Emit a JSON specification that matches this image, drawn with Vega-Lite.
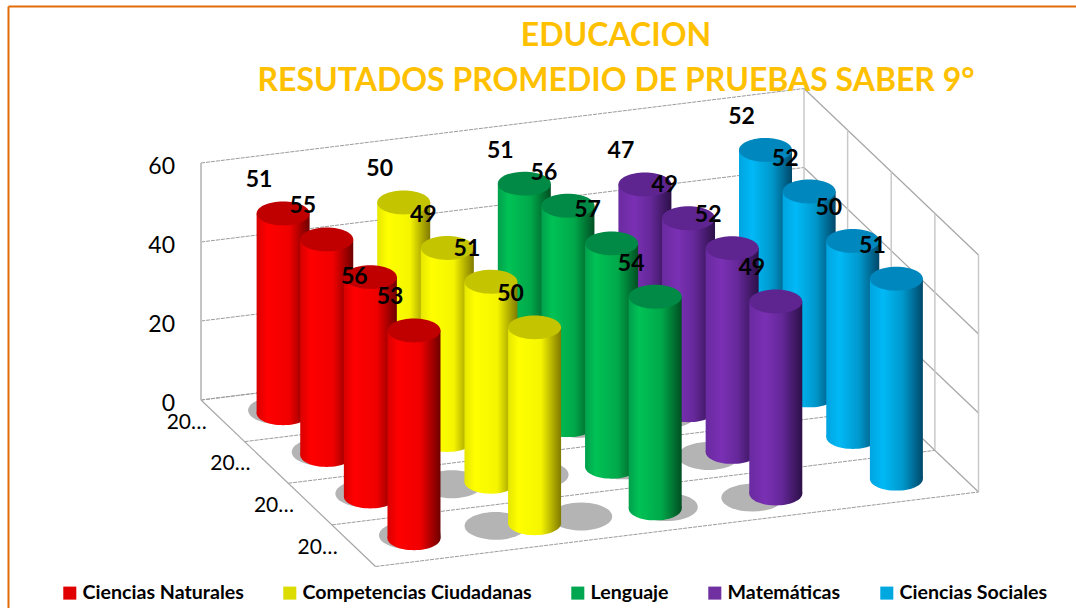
{
"$schema":"https://vega.github.io/schema/vega-lite/v6.json",
"width":1068,"height":602,"autosize":"none","padding":{"left":8,"top":6,"right":0,"bottom":0},
"background":"white",
"config":{"view":{"stroke":null},"text":{"font":"Lato"},"axis":{"domainColor":"#E36C0A","domainWidth":2,"ticks":false,"labels":false,"grid":false}},
"title":{"text":["EDUCACION","RESUTADOS PROMEDIO DE PRUEBAS SABER 9°"],"font":"Lato","fontSize":32,"fontWeight":"bold","color":"#FFC000","anchor":"middle","dx":74,"dy":92,"lineHeight":45,"offset":0},
"datasets":{
"niveles":[{"nivel":0},{"nivel":20},{"nivel":40},{"nivel":60}],
"bordes":[{"a":0},{"a":1},{"a":2},{"a":3},{"a":4}],
"anios":[{"anio":1,"etiqueta":"20…"},{"anio":2,"etiqueta":"20…"},{"anio":3,"etiqueta":"20…"},{"anio":4,"etiqueta":"20…"}],
"notas":[
{"materia":"Ciencias Sociales","anio":1,"valor":52},{"materia":"Ciencias Sociales","anio":2,"valor":52},{"materia":"Ciencias Sociales","anio":3,"valor":50},{"materia":"Ciencias Sociales","anio":4,"valor":51},
{"materia":"Matemáticas","anio":1,"valor":47},{"materia":"Matemáticas","anio":2,"valor":49},{"materia":"Matemáticas","anio":3,"valor":52},{"materia":"Matemáticas","anio":4,"valor":49},
{"materia":"Lenguaje","anio":1,"valor":51},{"materia":"Lenguaje","anio":2,"valor":56},{"materia":"Lenguaje","anio":3,"valor":57},{"materia":"Lenguaje","anio":4,"valor":54},
{"materia":"Competencias Ciudadanas","anio":1,"valor":50},{"materia":"Competencias Ciudadanas","anio":2,"valor":49},{"materia":"Competencias Ciudadanas","anio":3,"valor":51},{"materia":"Competencias Ciudadanas","anio":4,"valor":50},
{"materia":"Ciencias Naturales","anio":1,"valor":51},{"materia":"Ciencias Naturales","anio":2,"valor":55},{"materia":"Ciencias Naturales","anio":3,"valor":56},{"materia":"Ciencias Naturales","anio":4,"valor":53}
]},
"layer":[
{"data":{"name":"niveles"},
 "transform":[{"calculate":"201","as":"x1"},{"calculate":"804","as":"x2"},{"calculate":"400-3.95*datum.nivel","as":"y1"},{"calculate":"325.5-3.95*datum.nivel","as":"y2"}],
 "mark":{"type":"rule","color":"#9c9c9c","strokeWidth":1,"strokeDash":[4,1]},
 "encoding":{
  "x":{"field":"x1","type":"quantitative","title":null,"axis":{"orient":"top"},"scale":{"domain":[8,1076],"nice":false,"zero":false}},"x2":{"field":"x2"},
  "y":{"field":"y1","type":"quantitative","title":null,"scale":{"domain":[608,6],"nice":false,"zero":false}},"y2":{"field":"y2"}}},
{"data":{"name":"niveles"},
 "transform":[{"calculate":"804","as":"x1"},{"calculate":"978.5","as":"x2"},{"calculate":"325.5-3.95*datum.nivel","as":"y1"},{"calculate":"492-3.95*datum.nivel","as":"y2"}],
 "mark":{"type":"rule","color":"#a6a6a6","strokeWidth":1.2},
 "encoding":{
  "x":{"field":"x1","type":"quantitative","title":null,"axis":{"orient":"top"},"scale":{"domain":[8,1076],"nice":false,"zero":false}},"x2":{"field":"x2"},
  "y":{"field":"y1","type":"quantitative","title":null,"scale":{"domain":[608,6],"nice":false,"zero":false}},"y2":{"field":"y2"}}},
{"data":{"name":"bordes"},
 "transform":[{"calculate":"804+174.5*datum.a/4","as":"x1"},{"calculate":"325.5+166.5*datum.a/4","as":"y1"},{"calculate":"datum.y1-237","as":"y2"}],
 "mark":{"type":"rule","color":"#c9c9c9","strokeWidth":1.5},
 "encoding":{
  "x":{"field":"x1","type":"quantitative","title":null,"axis":{"orient":"top"},"scale":{"domain":[8,1076],"nice":false,"zero":false}},
  "y":{"field":"y1","type":"quantitative","title":null,"scale":{"domain":[608,6],"nice":false,"zero":false}},"y2":{"field":"y2"}}},
{"data":{"name":"bordes"},
 "transform":[{"calculate":"201+174.5*datum.a/4","as":"x1"},{"calculate":"datum.x1+603","as":"x2"},{"calculate":"400+166.5*datum.a/4","as":"y1"},{"calculate":"datum.y1-74.5","as":"y2"}],
 "mark":{"type":"rule","color":"#9c9c9c","strokeWidth":1,"strokeDash":[4,1]},
 "encoding":{
  "x":{"field":"x1","type":"quantitative","title":null,"axis":{"orient":"top"},"scale":{"domain":[8,1076],"nice":false,"zero":false}},"x2":{"field":"x2"},
  "y":{"field":"y1","type":"quantitative","title":null,"scale":{"domain":[608,6],"nice":false,"zero":false}},"y2":{"field":"y2"}}},
{"data":{"name":"niveles"},
 "transform":[{"filter":"datum.nivel==0"},{"calculate":"201","as":"x1"},{"calculate":"400","as":"y1"},{"calculate":"163","as":"y2"}],
 "mark":{"type":"rule","color":"#c4c4c4","strokeWidth":2},
 "encoding":{
  "x":{"field":"x1","type":"quantitative","title":null,"axis":{"orient":"top"},"scale":{"domain":[8,1076],"nice":false,"zero":false}},
  "y":{"field":"y1","type":"quantitative","title":null,"scale":{"domain":[608,6],"nice":false,"zero":false}},"y2":{"field":"y2"}}},
{"data":{"name":"niveles"},
 "transform":[{"filter":"datum.nivel==0"},{"calculate":"201","as":"x1"},{"calculate":"375.5","as":"x2"},{"calculate":"400","as":"y1"},{"calculate":"566.5","as":"y2"}],
 "mark":{"type":"rule","color":"#a6a6a6","strokeWidth":1.2},
 "encoding":{
  "x":{"field":"x1","type":"quantitative","title":null,"axis":{"orient":"top"},"scale":{"domain":[8,1076],"nice":false,"zero":false}},"x2":{"field":"x2"},
  "y":{"field":"y1","type":"quantitative","title":null,"scale":{"domain":[608,6],"nice":false,"zero":false}},"y2":{"field":"y2"}}},
{"data":{"name":"niveles"},
 "transform":[{"calculate":"175","as":"x1"},{"calculate":"404-3.95*datum.nivel","as":"y1"}],
 "mark":{"type":"text","font":"Lato","fontSize":23,"align":"right","baseline":"middle","color":"#000000"},
 "encoding":{
  "x":{"field":"x1","type":"quantitative","title":null,"axis":{"orient":"top"},"scale":{"domain":[8,1076],"nice":false,"zero":false}},
  "y":{"field":"y1","type":"quantitative","title":null,"scale":{"domain":[608,6],"nice":false,"zero":false}},
  "text":{"field":"nivel","type":"quantitative"}}},
{"data":{"name":"anios"},
 "transform":[{"calculate":"201+174.5*(datum.anio-0.5)/4-16","as":"x1"},{"calculate":"400+166.5*(datum.anio-0.5)/4+2","as":"y1"}],
 "mark":{"type":"text","font":"Lato","fontSize":21,"align":"right","baseline":"middle","color":"#000000"},
 "encoding":{
  "x":{"field":"x1","type":"quantitative","title":null,"axis":{"orient":"top"},"scale":{"domain":[8,1076],"nice":false,"zero":false}},
  "y":{"field":"y1","type":"quantitative","title":null,"scale":{"domain":[608,6],"nice":false,"zero":false}},
  "text":{"field":"etiqueta","type":"nominal"}}},
{"data":{"name":"notas"},
 "transform":[
  {"calculate":"indexof(['Ciencias Naturales','Competencias Ciudadanas','Lenguaje','Matemáticas','Ciencias Sociales'],datum.materia)","as":"s"},
  {"calculate":"201+603*(datum.s+0.5)/5+174.5*(datum.anio-0.5)/4","as":"px"},
  {"calculate":"400-74.5*(datum.s+0.5)/5+166.5*(datum.anio-0.5)/4","as":"base"},
  {"calculate":"datum.base-3.92*datum.valor","as":"cima"},
  {"calculate":"datum.px-26.5","as":"izq"},{"calculate":"datum.px+26.5","as":"der"},
  {"calculate":"datum.px-4-35*datum.s","as":"sx"},{"calculate":"datum.base-3+5.5*datum.s","as":"sy"},
  {"calculate":"datum.px-24","as":"lx"},{"calculate":"datum.cima-33","as":"ly"}
 ],
 "layer":[
  {"mark":{"type":"point","shape":"M-1,0A1,0.45,0,1,1,1,0A1,0.45,0,1,1,-1,0Z","size":3844,"filled":true,"opacity":1,"color":"#b4b4b4"},
   "encoding":{"x":{"field":"sx","type":"quantitative","title":null,"axis":{"orient":"top"},"scale":{"domain":[8,1076],"nice":false,"zero":false}},"y":{"field":"sy","type":"quantitative","title":null,"scale":{"domain":[608,6],"nice":false,"zero":false}}}},

  {"transform":[{"filter":"datum.s==4"}],"mark":{"type":"point","shape":"M-1,0A1,0.45,0,1,1,1,0A1,0.45,0,1,1,-1,0Z","size":2809,"filled":true,"opacity":1,"fill":{"gradient":"linear","x1":0,"y1":0,"x2":1,"y2":0,"stops":[{"offset":0,"color":"#00a4e0"},{"offset":0.25,"color":"#00b9f6"},{"offset":0.62,"color":"#0098cc"},{"offset":1,"color":"#00486a"}]}},
   "encoding":{"x":{"field":"px","type":"quantitative","title":null,"axis":{"orient":"top"},"scale":{"domain":[8,1076],"nice":false,"zero":false}},"y":{"field":"base","type":"quantitative","title":null,"scale":{"domain":[608,6],"nice":false,"zero":false}}}},
  {"transform":[{"filter":"datum.s==4"}],"mark":{"type":"bar","fill":{"gradient":"linear","x1":0,"y1":0,"x2":1,"y2":0,"stops":[{"offset":0,"color":"#00a4e0"},{"offset":0.25,"color":"#00b9f6"},{"offset":0.62,"color":"#0098cc"},{"offset":1,"color":"#00486a"}]}},
   "encoding":{"x":{"field":"izq","type":"quantitative","title":null,"axis":{"orient":"top"},"scale":{"domain":[8,1076],"nice":false,"zero":false}},"x2":{"field":"der"},"y":{"field":"base","type":"quantitative","title":null,"scale":{"domain":[608,6],"nice":false,"zero":false}},"y2":{"field":"cima"}}},

  {"transform":[{"filter":"datum.s==3"}],"mark":{"type":"point","shape":"M-1,0A1,0.45,0,1,1,1,0A1,0.45,0,1,1,-1,0Z","size":2809,"filled":true,"opacity":1,"fill":{"gradient":"linear","x1":0,"y1":0,"x2":1,"y2":0,"stops":[{"offset":0,"color":"#6a2aa0"},{"offset":0.3,"color":"#7a30b4"},{"offset":0.6,"color":"#66289a"},{"offset":1,"color":"#2c1048"}]}},
   "encoding":{"x":{"field":"px","type":"quantitative","title":null,"axis":{"orient":"top"},"scale":{"domain":[8,1076],"nice":false,"zero":false}},"y":{"field":"base","type":"quantitative","title":null,"scale":{"domain":[608,6],"nice":false,"zero":false}}}},
  {"transform":[{"filter":"datum.s==3"}],"mark":{"type":"bar","fill":{"gradient":"linear","x1":0,"y1":0,"x2":1,"y2":0,"stops":[{"offset":0,"color":"#6a2aa0"},{"offset":0.3,"color":"#7a30b4"},{"offset":0.6,"color":"#66289a"},{"offset":1,"color":"#2c1048"}]}},
   "encoding":{"x":{"field":"izq","type":"quantitative","title":null,"axis":{"orient":"top"},"scale":{"domain":[8,1076],"nice":false,"zero":false}},"x2":{"field":"der"},"y":{"field":"base","type":"quantitative","title":null,"scale":{"domain":[608,6],"nice":false,"zero":false}},"y2":{"field":"cima"}}},

  {"transform":[{"filter":"datum.s==2"}],"mark":{"type":"point","shape":"M-1,0A1,0.45,0,1,1,1,0A1,0.45,0,1,1,-1,0Z","size":2809,"filled":true,"opacity":1,"fill":{"gradient":"linear","x1":0,"y1":0,"x2":1,"y2":0,"stops":[{"offset":0,"color":"#00a04c"},{"offset":0.2,"color":"#00c255"},{"offset":0.62,"color":"#00a84a"},{"offset":1,"color":"#004f22"}]}},
   "encoding":{"x":{"field":"px","type":"quantitative","title":null,"axis":{"orient":"top"},"scale":{"domain":[8,1076],"nice":false,"zero":false}},"y":{"field":"base","type":"quantitative","title":null,"scale":{"domain":[608,6],"nice":false,"zero":false}}}},
  {"transform":[{"filter":"datum.s==2"}],"mark":{"type":"bar","fill":{"gradient":"linear","x1":0,"y1":0,"x2":1,"y2":0,"stops":[{"offset":0,"color":"#00a04c"},{"offset":0.2,"color":"#00c255"},{"offset":0.62,"color":"#00a84a"},{"offset":1,"color":"#004f22"}]}},
   "encoding":{"x":{"field":"izq","type":"quantitative","title":null,"axis":{"orient":"top"},"scale":{"domain":[8,1076],"nice":false,"zero":false}},"x2":{"field":"der"},"y":{"field":"base","type":"quantitative","title":null,"scale":{"domain":[608,6],"nice":false,"zero":false}},"y2":{"field":"cima"}}},

  {"transform":[{"filter":"datum.s==1"}],"mark":{"type":"point","shape":"M-1,0A1,0.45,0,1,1,1,0A1,0.45,0,1,1,-1,0Z","size":2809,"filled":true,"opacity":1,"fill":{"gradient":"linear","x1":0,"y1":0,"x2":1,"y2":0,"stops":[{"offset":0,"color":"#e6e600"},{"offset":0.2,"color":"#ffff00"},{"offset":0.62,"color":"#f5f500"},{"offset":1,"color":"#807a00"}]}},
   "encoding":{"x":{"field":"px","type":"quantitative","title":null,"axis":{"orient":"top"},"scale":{"domain":[8,1076],"nice":false,"zero":false}},"y":{"field":"base","type":"quantitative","title":null,"scale":{"domain":[608,6],"nice":false,"zero":false}}}},
  {"transform":[{"filter":"datum.s==1"}],"mark":{"type":"bar","fill":{"gradient":"linear","x1":0,"y1":0,"x2":1,"y2":0,"stops":[{"offset":0,"color":"#e6e600"},{"offset":0.2,"color":"#ffff00"},{"offset":0.62,"color":"#f5f500"},{"offset":1,"color":"#807a00"}]}},
   "encoding":{"x":{"field":"izq","type":"quantitative","title":null,"axis":{"orient":"top"},"scale":{"domain":[8,1076],"nice":false,"zero":false}},"x2":{"field":"der"},"y":{"field":"base","type":"quantitative","title":null,"scale":{"domain":[608,6],"nice":false,"zero":false}},"y2":{"field":"cima"}}},

  {"transform":[{"filter":"datum.s==0"}],"mark":{"type":"point","shape":"M-1,0A1,0.45,0,1,1,1,0A1,0.45,0,1,1,-1,0Z","size":2809,"filled":true,"opacity":1,"fill":{"gradient":"linear","x1":0,"y1":0,"x2":1,"y2":0,"stops":[{"offset":0,"color":"#d80000"},{"offset":0.2,"color":"#ff0000"},{"offset":0.62,"color":"#f00000"},{"offset":1,"color":"#6e0000"}]}},
   "encoding":{"x":{"field":"px","type":"quantitative","title":null,"axis":{"orient":"top"},"scale":{"domain":[8,1076],"nice":false,"zero":false}},"y":{"field":"base","type":"quantitative","title":null,"scale":{"domain":[608,6],"nice":false,"zero":false}}}},
  {"transform":[{"filter":"datum.s==0"}],"mark":{"type":"bar","fill":{"gradient":"linear","x1":0,"y1":0,"x2":1,"y2":0,"stops":[{"offset":0,"color":"#d80000"},{"offset":0.2,"color":"#ff0000"},{"offset":0.62,"color":"#f00000"},{"offset":1,"color":"#6e0000"}]}},
   "encoding":{"x":{"field":"izq","type":"quantitative","title":null,"axis":{"orient":"top"},"scale":{"domain":[8,1076],"nice":false,"zero":false}},"x2":{"field":"der"},"y":{"field":"base","type":"quantitative","title":null,"scale":{"domain":[608,6],"nice":false,"zero":false}},"y2":{"field":"cima"}}},

  {"mark":{"type":"point","shape":"M-1,0A1,0.45,0,1,1,1,0A1,0.45,0,1,1,-1,0Z","size":2809,"filled":true,"opacity":1},
   "encoding":{"x":{"field":"px","type":"quantitative","title":null,"axis":{"orient":"top"},"scale":{"domain":[8,1076],"nice":false,"zero":false}},"y":{"field":"cima","type":"quantitative","title":null,"scale":{"domain":[608,6],"nice":false,"zero":false}},
    "fill":{"field":"materia","type":"nominal","legend":null,"scale":{"domain":["Ciencias Sociales","Matemáticas","Lenguaje","Competencias Ciudadanas","Ciencias Naturales"],"range":["#0088be","#5e2590","#008a45","#c4c400","#c00000"]}}}},

  {"mark":{"type":"point","size":0,"filled":true,"opacity":1},
   "encoding":{"x":{"field":"px","type":"quantitative","title":null,"axis":{"orient":"top"},"scale":{"domain":[8,1076],"nice":false,"zero":false}},"y":{"field":"cima","type":"quantitative","title":null,"scale":{"domain":[608,6],"nice":false,"zero":false}},
    "color":{"field":"materia","type":"nominal","scale":{"domain":["Ciencias Naturales","Competencias Ciudadanas","Lenguaje","Matemáticas","Ciencias Sociales"],"range":["#e00000","#dcdc00","#00a650","#7030a0","#00a8e0"]},
     "legend":{"orient":"none","legendX":52,"legendY":577,"direction":"horizontal","columns":5,"title":null,"symbolType":"square","symbolSize":170,"symbolStrokeWidth":0,"labelFont":"Lato","labelFontSize":19.6,"labelFontWeight":"bold","labelColor":"#000000","labelLimit":300,"columnPadding":36,"labelOffset":3}}}},

  {"transform":[{"filter":"!(datum.materia=='Ciencias Naturales'&&datum.anio==3)"}],
   "mark":{"type":"text","font":"Lato","fontSize":23,"fontWeight":"bold","color":"#000000","baseline":"middle"},
   "encoding":{"x":{"field":"lx","type":"quantitative","title":null,"axis":{"orient":"top"},"scale":{"domain":[8,1076],"nice":false,"zero":false}},"y":{"field":"ly","type":"quantitative","title":null,"scale":{"domain":[608,6],"nice":false,"zero":false}},"text":{"field":"valor","type":"quantitative"}}},
  {"transform":[{"filter":"datum.materia=='Ciencias Naturales'&&datum.anio==3"}],
   "mark":{"type":"text","font":"Lato","fontSize":23,"fontWeight":"bold","color":"#000000","baseline":"middle","dx":8,"dy":33},
   "encoding":{"x":{"field":"lx","type":"quantitative","title":null,"axis":{"orient":"top"},"scale":{"domain":[8,1076],"nice":false,"zero":false}},"y":{"field":"ly","type":"quantitative","title":null,"scale":{"domain":[608,6],"nice":false,"zero":false}},"text":{"field":"valor","type":"quantitative"}}}
 ]}
]}
